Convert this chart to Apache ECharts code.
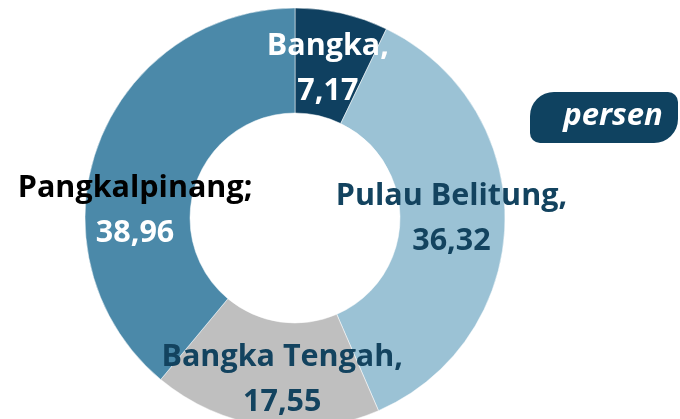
<!DOCTYPE html>
<html>
<head>
<meta charset="utf-8">
<script src="https://cdn.jsdelivr.net/npm/echarts@6/dist/echarts.min.js"></script>
<style>
  html, body { margin: 0; padding: 0; background: #fff; }
  #chart { width: 680px; height: 419px; }
</style>
</head>
<body>
<div id="chart"></div>
<script>
// data
var regions = ['Bangka', 'Pulau Belitung', 'Bangka Tengah', 'Pangkalpinang']
var shares = [7.17, 36.32, 17.55, 38.96]
var separators = [',', ',', ',', ';']
var unitLabel = 'persen'

var sliceColors = ['#0f4060', '#9bc2d5', '#bfbfbf', '#4b89a9']
var nameColors = ['#ffffff', '#13435f', '#13435f', '#000000']
var valueColors = ['#ffffff', '#13435f', '#13435f', '#ffffff']
// shift of each label from its default spot
var labelShift = [[-3, 7], [-4, -3], [10, 3], [-9, 47]]

var FONT = '"Open Sans", Lato, sans-serif'

var myChart = echarts.init(document.getElementById('chart'))

var seriesData = regions.map(function (name, i) {
  return {
    name: name,
    value: shares[i],
    itemStyle: { color: sliceColors[i] },
    label: {
      rich: {
        n: { color: nameColors[i], fontSize: 30.5, fontWeight: 'bold', fontFamily: FONT, lineHeight: 45 },
        v: { color: valueColors[i], fontSize: 30.5, fontWeight: 'bold', fontFamily: FONT, lineHeight: 45 }
      }
    }
  }
})

var option = {
  animation: false,
  series: [
    {
      type: 'pie',
      center: [295, 218],
      radius: [105, 210],
      startAngle: 90,
      clockwise: true,
      data: seriesData,
      itemStyle: { borderColor: '#ffffff', borderWidth: 0.5 },
      label: {
        show: true,
        position: 'inside',
        formatter: function (p) {
          var i = p.dataIndex
          return '{n|' + p.name + separators[i] + '}\n{v|' + String(p.value).replace('.', ',') + '}'
        }
      },
      labelLine: { show: false },
      labelLayout: function (params) {
        var s = labelShift[params.dataIndex]
        return { dx: s[0], dy: s[1] }
      }
    }
  ],
  graphic: [
    {
      type: 'group',
      left: 530,
      top: 92,
      children: [
        {
          type: 'rect',
          shape: { x: 0, y: 0, width: 148, height: 51, r: [24, 10, 24, 10] },
          style: { fill: '#0f4260' }
        },
        {
          type: 'text',
          x: 83,
          y: 24,
          style: {
            text: unitLabel,
            fill: '#ffffff',
            font: 'italic bold 31px ' + FONT,
            textAlign: 'center',
            textVerticalAlign: 'middle'
          }
        }
      ]
    }
  ]
}

myChart.setOption(option)
</script>
</body>
</html>
